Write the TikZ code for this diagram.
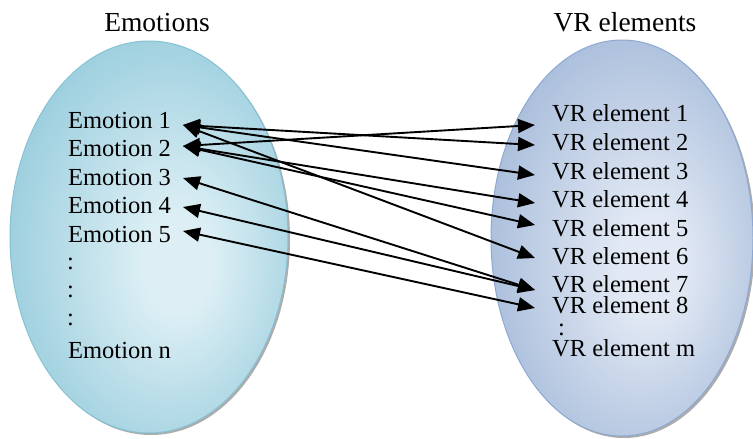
\documentclass[tikz,border=0pt]{standalone}
\usepackage{fontspec}
\setmainfont{Liberation Serif}
\usetikzlibrary{arrows.meta}
\definecolor{lin}{HTML}{DDEFF5}
\definecolor{lout}{HTML}{93CADB}
\definecolor{lbord}{HTML}{86C2D3}
\definecolor{rin}{HTML}{E2E9F4}
\definecolor{rout}{HTML}{A2B8D8}
\definecolor{rbord}{HTML}{8DA9D2}
\pgfdeclareradialshading{lsh}{\pgfpoint{6bp}{-4bp}}{color(0bp)=(lin); color(6bp)=(lin); color(32bp)=(lout); color(50bp)=(lout)}
\pgfdeclareradialshading{rsh}{\pgfpoint{6bp}{-4bp}}{color(0bp)=(rin); color(6bp)=(rin); color(32bp)=(rout); color(50bp)=(rout)}
\begin{document}
\begin{tikzpicture}[x=1pt,y=-1pt,
  lbl/.style={anchor=west,inner sep=0pt,font=\fontsize{24.5}{28}\selectfont},
  ttl/.style={inner sep=0pt,font=\fontsize{27.5}{30}\selectfont},
  link/.style={line width=1.9pt,{Triangle[length=17pt,width=14pt]}-{Triangle[length=17pt,width=14pt]}},
  shadowell/.style={fill=gray!65}]
\useasboundingbox (0,0) rectangle (753,439);
% left set
\fill[shadowell] (151,239) ellipse [x radius=139, y radius=196];
\path[shading=lsh, draw=lbord, line width=1pt] (149,237) ellipse [x radius=139, y radius=196];
% right set
\fill[shadowell] (624,240) ellipse [x radius=131, y radius=198];
\path[shading=rsh, draw=rbord, line width=1pt] (622,238) ellipse [x radius=131, y radius=198];
% titles
\node[ttl] (temo) at (157,23) {Emotions};
\node[ttl] (tvr) at (625,22) {VR elements};
% emotion labels
\node[lbl] (le1) at (68,121) {Emotion 1};
\node[lbl] (le2) at (68,149) {Emotion 2};
\node[lbl] (le3) at (68,178) {Emotion 3};
\node[lbl] (le4) at (68,206) {Emotion 4};
\node[lbl] (le5) at (68,235) {Emotion 5};
\node[lbl] (ld1) at (67,264) {:};
\node[lbl] (ld2) at (67,292) {:};
\node[lbl] (ld3) at (67,320) {:};
\node[lbl] (len) at (68,351) {Emotion n};
% VR labels
\node[lbl] (lv1) at (552,113) {VR element 1};
\node[lbl] (lv2) at (552,142) {VR element 2};
\node[lbl] (lv3) at (552,171) {VR element 3};
\node[lbl] (lv4) at (552,199) {VR element 4};
\node[lbl] (lv5) at (552,228) {VR element 5};
\node[lbl] (lv6) at (552,256) {VR element 6};
\node[lbl] (lv7) at (552,284) {VR element 7};
\node[lbl] (lv8) at (552,305) {VR element 8};
\node[lbl] (lvd) at (558,330) {:};
\node[lbl] (lvm) at (552,348) {VR element m};
% connector end points
\coordinate (e1) at (183,125);
\coordinate (e2) at (183,146);
\coordinate (e3) at (183,178);
\coordinate (e4) at (183,207);
\coordinate (e5) at (183,231);
\coordinate (v1) at (535,125);
\coordinate (v2) at (535,145);
\coordinate (v3) at (535,175);
\coordinate (v4) at (535,203);
\coordinate (v5) at (535,225);
\coordinate (v6) at (535,258);
\coordinate (v7) at (535,290);
\coordinate (v8) at (535,308);
% connectors
\draw[link] (e1) -- (v2);
\draw[link] (e1) -- (v3);
\draw[link] (e1) -- (v6);
\draw[link] (e2) -- (v1);
\draw[link] (e2) -- (v4);
\draw[link] (e2) -- (v5);
\draw[link] (e3) -- (v7);
\draw[link] (e4) -- (v7);
\draw[link] (e5) -- (v8);
\end{tikzpicture}
\end{document}
